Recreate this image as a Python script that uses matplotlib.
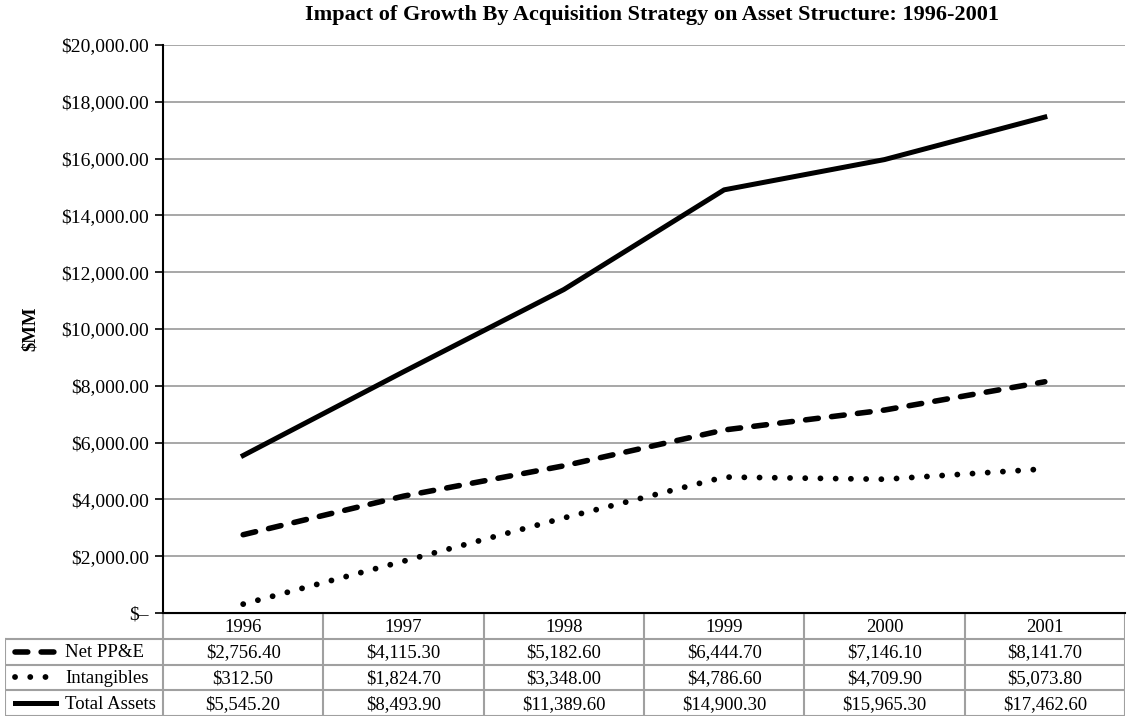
import matplotlib
matplotlib.use("Agg")
import matplotlib.pyplot as plt
from matplotlib.lines import Line2D

plt.rcParams['font.family'] = ['Liberation Serif', 'DejaVu Serif']

# Data
years = ['1996', '1997', '1998', '1999', '2000', '2001']
net_ppe = [2756.40, 4115.30, 5182.60, 6444.70, 7146.10, 8141.70]
intangibles = [312.50, 1824.70, 3348.00, 4786.60, 4709.90, 5073.80]
total_assets = [5545.20, 8493.90, 11389.60, 14900.30, 15965.30, 17462.60]
series_names = ['Net PP&E', 'Intangibles', 'Total Assets']
series_values = [net_ppe, intangibles, total_assets]

styles = [
    dict(linestyle=(0, (2.3, 2.4)), dash_capstyle='round', linewidth=4.0),
    dict(linestyle=(0, (0.01, 2.6)), dash_capstyle='round', linewidth=4.2),
    dict(linestyle='-', linewidth=3.6),
]

fig = plt.figure(figsize=(11.28, 7.26), dpi=100)
ax = fig.add_axes([163/1128, 113/726, 962/1128, 568/726])

x = list(range(len(years)))
for vals, st in zip(series_values, styles):
    ax.plot(x, vals, color='black', **st)

ax.set_xlim(-0.5, 5.5)
ax.set_ylim(0, 20000)
ax.set_yticks(range(0, 20001, 2000))
ax.set_yticklabels(['$–'] + ['${:,.2f}'.format(v) for v in range(2000, 20001, 2000)], fontsize=14)
ax.set_xticks([])
ax.yaxis.grid(True, color='#a0a0a0', linewidth=1.3)
ax.set_axisbelow(True)
ax.tick_params(axis='y', length=6, width=1.2, pad=4)
for side in ['top', 'right']:
    ax.spines[side].set_visible(False)
ax.spines['left'].set_linewidth(1.5)
ax.spines['bottom'].set_linewidth(1.5)
ax.set_ylabel('$MM', fontsize=13.5, fontweight='bold', labelpad=16)
ax.set_title('Impact of Growth By Acquisition Strategy on Asset Structure: 1996-2001',
             fontsize=16, fontweight='bold', pad=18, x=0.508)

# Data table below the chart
tab = fig.add_axes([5/1128, 10/726, 1120/1128, 103/726])
label_w = 158 / (962 / 6)
tab.set_xlim(-0.5 - label_w, 5.5)
tab.set_ylim(4, 0)
tab.axis('off')
grid_c = '#a0a0a0'
for r in [1, 2, 3, 4]:
    tab.plot([-0.5 - label_w, 5.5], [r, r], color=grid_c, lw=1.5)
for c in range(7):
    tab.plot([c - 0.5, c - 0.5], [0, 4], color=grid_c, lw=1.5)
tab.plot([-0.5 - label_w, -0.5 - label_w], [1, 4], color=grid_c, lw=1.5)
tab.plot([-0.5, 5.5], [0, 0], color='black', lw=1.5)

for i, yr in enumerate(years):
    tab.text(i, 0.55, yr, ha='center', va='center', fontsize=13.5)
for r, (name, vals, st) in enumerate(zip(series_names, series_values, styles)):
    yy = r + 1.55
    for i, v in enumerate(vals):
        tab.text(i, yy, '${:,.2f}'.format(v), ha='center', va='center', fontsize=13.5)
    x0 = -0.5 - label_w + 0.06
    tab.add_line(Line2D([x0, x0 + 0.26], [yy - 0.05, yy - 0.05], color='black', **st))
    tab.text(x0 + 0.315, yy, name, ha='left', va='center', fontsize=13.5)

fig.savefig('out.png', dpi=100)
